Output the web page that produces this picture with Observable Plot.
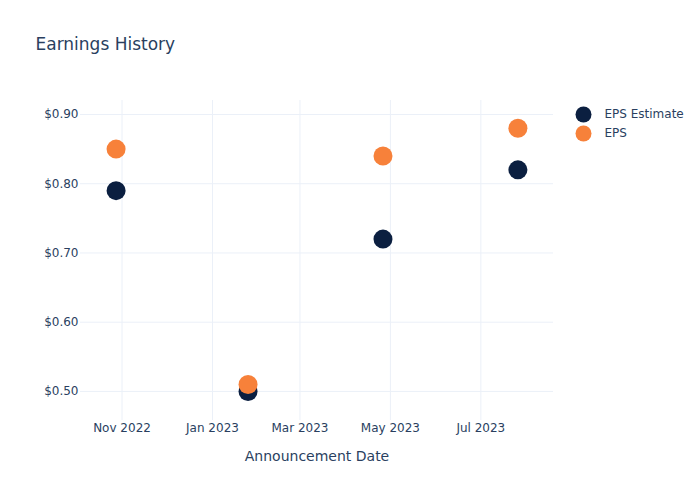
<!DOCTYPE html>
<html>
<head>
<meta charset="utf-8">
<script src="https://cdn.jsdelivr.net/npm/d3@7"></script>
<script src="https://cdn.jsdelivr.net/npm/@observablehq/plot@0.6"></script>
<style>
  html, body { margin: 0; padding: 0; background: white; }
  #chart { width: 700px; height: 500px; }
</style>
</head>
<body>
<div id="chart"></div>
<script>
const announcementDates = ["2022-10-28", "2023-01-25", "2023-04-26", "2023-07-26"];
const epsEstimate = [0.79, 0.50, 0.72, 0.82];
const epsActual = [0.85, 0.51, 0.84, 0.88];
const xTickDates = ["2022-11-01", "2023-01-01", "2023-03-01", "2023-05-01", "2023-07-01"];
const yTickValues = [0.5, 0.6, 0.7, 0.8, 0.9];
const seriesNames = ["EPS Estimate", "EPS"];
const seriesColors = ["#0b1f40", "#f7813a"];

const parse = d3.utcParse("%Y-%m-%d");
const estRows = announcementDates.map((d, i) => ({date: parse(d), value: epsEstimate[i]}));
const epsRows = announcementDates.map((d, i) => ({date: parse(d), value: epsActual[i]}));
const xTicks = xTickDates.map(parse);

const textColor = "#2a3f5f";
const gridColor = "#ebf0f8";

const chart = Plot.plot({
  width: 700,
  height: 500,
  marginLeft: 80,
  marginRight: 147,
  marginTop: 100,
  marginBottom: 80,
  style: {fontFamily: "'DejaVu Sans', Verdana, sans-serif", fontSize: "12px", color: textColor, background: "white"},
  x: {type: "utc", domain: [parse("2022-10-04"), parse("2023-08-19")]},
  y: {domain: [0.458, 0.9202]},
  marks: [
    Plot.gridX(xTicks, {stroke: gridColor, strokeOpacity: 1, strokeWidth: 1}),
    Plot.gridY(yTickValues, {stroke: gridColor, strokeOpacity: 1, strokeWidth: 1}),
    Plot.axisX(xTicks, {tickSize: 0, tickPadding: 3, tickFormat: d3.utcFormat("%b %Y"), label: null, fill: textColor}),
    Plot.axisY(yTickValues, {tickSize: 0, tickPadding: 2, tickFormat: d3.format("$.2f"), label: null, fill: textColor}),
    Plot.text(["Announcement Date"], {frameAnchor: "bottom", dy: 36, lineAnchor: "middle", fontSize: 14, fill: textColor}),
    Plot.text(["Earnings History"], {frameAnchor: "top-left", dx: -45, dy: -56, lineAnchor: "middle", textAnchor: "start", fontSize: 17, fill: textColor}),
    Plot.dot(estRows, {x: "date", y: "value", r: 9.5, fill: seriesColors[0], stroke: null}),
    Plot.dot(epsRows, {x: "date", y: "value", r: 9.5, fill: seriesColors[1], stroke: null}),
    // legend
    Plot.dot([seriesNames[0]], {frameAnchor: "top-right", dx: 30, dy: 14, r: 8, fill: seriesColors[0]}),
    Plot.text([seriesNames[0]], {frameAnchor: "top-right", dx: 51, dy: 14, lineAnchor: "middle", textAnchor: "start", fontSize: 12, fill: textColor}),
    Plot.dot([seriesNames[1]], {frameAnchor: "top-right", dx: 30, dy: 33, r: 8, fill: seriesColors[1]}),
    Plot.text([seriesNames[1]], {frameAnchor: "top-right", dx: 51, dy: 33, lineAnchor: "middle", textAnchor: "start", fontSize: 12, fill: textColor})
  ]
});
document.getElementById("chart").appendChild(chart);
</script>
</body>
</html>
